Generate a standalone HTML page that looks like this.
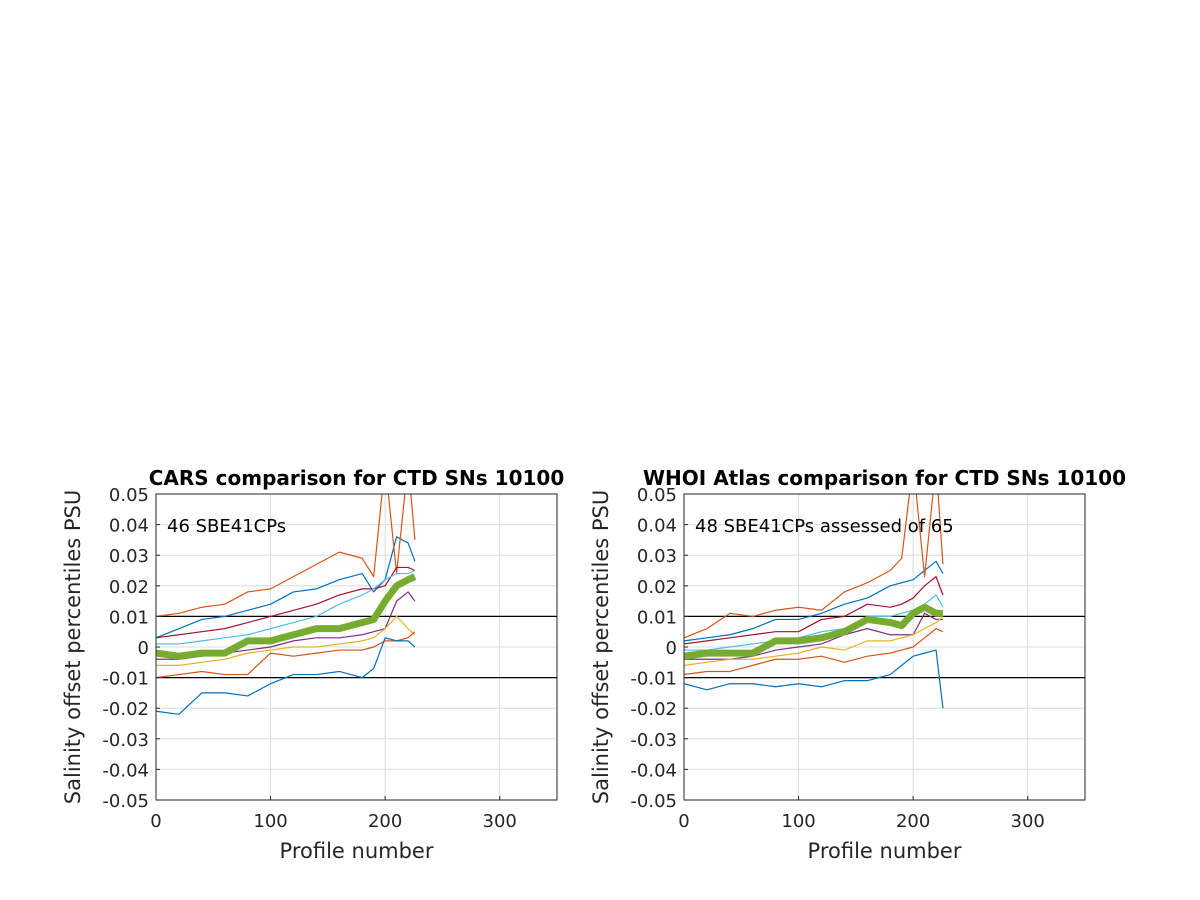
<!DOCTYPE html>
<html><head><meta charset="utf-8"><style>
body{margin:0;background:#fff;}
svg{display:block;font-family:"DejaVu Sans","Liberation Sans",sans-serif;}
</style></head><body>
<svg id="chart" width="1200" height="900"></svg>
<script>
const profiles=[0,20,40,60,80,100,120,140,160,180,190,200,210,220,226];
const seriesNames=["blue-hi","orange-hi","darkred","cyan","purple","yellow","orange-lo","blue-lo","median"];
const seriesColors=["#0072BD","#D95319","#A2142F","#4DBEEE","#7E2F8E","#EDB120","#D95319","#0072BD","#77AC30"];
// left (CARS) values in 0.001 PSU
const L_orangeHi=[10,11,13,14,18,19,23,27,31,29,23,60,24,60,35];
const L_blueHi=[3,6,9,10,12,14,18,19,22,24,18,22,36,34,28];
const L_darkred=[3,4,5,6,8,10,12,14,17,19,19,20,26,26,25];
const L_cyan=[1,1,2,3,4,6,8,10,14,17,19,22,24,24,25];
const L_median=[-2,-3,-2,-2,2,2,4,6,6,8,9,15,20,22,23];
const L_purple=[-4,-4,-3,-2,-1,0,2,3,3,4,5,6,15,18,15];
const L_yellow=[-6,-6,-5,-4,-2,-1,0,0,1,2,3,6,10,6,4];
const L_orangeLo=[-10,-9,-8,-9,-9,-2,-3,-2,-1,-1,0,2,2,3,5];
const L_blueLo=[-21,-22,-15,-15,-16,-12,-9,-9,-8,-10,-7,3,2,2,0];
// right (WHOI) values
const R_orangeHi=[3,6,11,10,12,13,12,18,21,25,29,60,23,60,27];
const R_blueHi=[2,3,4,6,9,9,11,14,16,20,21,22,25,28,24];
const R_darkred=[1,2,3,4,5,5,9,10,14,13,14,16,20,23,17];
const R_cyan=[-1,-1,0,1,2,3,5,6,10,10,11,12,14,17,13];
const R_median=[-3,-2,-2,-2,2,2,3,5,9,8,7,11,13,11,11];
const R_purple=[-4,-4,-4,-3,-1,0,1,4,6,4,4,4,11,9,9];
const R_yellow=[-6,-5,-4,-4,-3,-2,0,-1,2,2,3,4,6,8,10];
const R_orangeLo=[-9,-8,-8,-6,-4,-4,-3,-5,-3,-2,-1,0,3,6,5];
const R_blueLo=[-12,-14,-12,-12,-13,-12,-13,-11,-11,-9,-6,-3,-2,-1,-20];
const xTicks=[0,100,200,300];
const yTicks=[-0.05,-0.04,-0.03,-0.02,-0.01,0,0.01,0.02,0.03,0.04,0.05];
const NS="http://www.w3.org/2000/svg";
const svg=document.getElementById("chart");
function mk(tag,attrs,parent){const e=document.createElementNS(NS,tag);for(const k in attrs)e.setAttribute(k,attrs[k]);(parent||svg).appendChild(e);return e;}
function panel(id,x0,title,note,data){
  const x1=x0+401,yTop=494,yBot=800;
  const sx=v=>x0+v/350*(x1-x0);
  const sy=v=>yBot-(v+0.05)/0.1*(yBot-yTop);
  const g=mk("g",{});
  
  
  const cp=mk("clipPath",{id:id+"clip"},g);mk("rect",{x:x0,y:yTop,width:x1-x0,height:yBot-yTop},cp);
  xTicks.forEach(t=>{const l=mk("line",{x1:sx(t),x2:sx(t),y1:yTop,y2:yBot,stroke:"#dcdcdc","stroke-width":1},g);
    });
  yTicks.forEach(t=>{const l=mk("line",{x1:x0,x2:x1,y1:sy(t),y2:sy(t),stroke:"#dcdcdc","stroke-width":1},g);
    });
  [0.01,-0.01].forEach(t=>{const l=mk("line",{x1:x0,x2:x1,y1:sy(t),y2:sy(t),stroke:"#000","stroke-width":1.2},g);
    });
  const lg=mk("g",{"clip-path":"url(#"+id+"clip)"},g);
  data.forEach((arr,i)=>{
    const pts=arr.map((v,j)=>sx(profiles[j])+","+sy(v/1000)).join(" ");
    const p=mk("polyline",{points:pts,fill:"none",stroke:seriesColors[i],"stroke-width":i==8?7:1.2,"stroke-linejoin":"round"},lg);
    
    
  });
  const box=mk("rect",{x:x0,y:yTop,width:x1-x0,height:yBot-yTop,fill:"none",stroke:"#262626","stroke-width":1},g);
  
  xTicks.forEach(t=>{mk("line",{x1:sx(t),x2:sx(t),y1:yBot,y2:yBot-4,stroke:"#262626"},g);
    const tx=mk("text",{x:sx(t),y:yBot+27,"text-anchor":"middle","font-size":18,fill:"#262626"},g);tx.textContent=t;
    });
  yTicks.forEach(t=>{mk("line",{x1:x0,x2:x0+4,y1:sy(t),y2:sy(t),stroke:"#262626"},g);
    const tx=mk("text",{x:x0-7,y:sy(t)+7,"text-anchor":"end","font-size":18,fill:"#262626"},g);
    tx.textContent=(Math.abs(t)<1e-9?"0":t.toFixed(2));
    });
  const xl=mk("text",{x:(x0+x1)/2,y:858,"text-anchor":"middle","font-size":21,fill:"#262626"},g);xl.textContent="Profile number";
  
  const yl=mk("text",{x:0,y:0,transform:"translate("+(x0-76)+",647) rotate(-90)","text-anchor":"middle","font-size":21,fill:"#262626"},g);yl.textContent="Salinity offset percentiles PSU";
  
  const ti=mk("text",{x:(x0+x1)/2,y:485,"text-anchor":"middle","font-size":20,"font-weight":"bold",fill:"#000"},g);ti.textContent=title;
  
  const nt=mk("text",{x:x0+11,y:532,"font-size":18,fill:"#000"},g);nt.textContent=note;
  
}
panel("cars",156,"CARS comparison for CTD SNs 10100","46 SBE41CPs",[L_blueHi,L_orangeHi,L_darkred,L_cyan,L_purple,L_yellow,L_orangeLo,L_blueLo,L_median]);
panel("whoi",684,"WHOI Atlas comparison for CTD SNs 10100","48 SBE41CPs assessed of 65",[R_blueHi,R_orangeHi,R_darkred,R_cyan,R_purple,R_yellow,R_orangeLo,R_blueLo,R_median]);
</script>
</body></html>
